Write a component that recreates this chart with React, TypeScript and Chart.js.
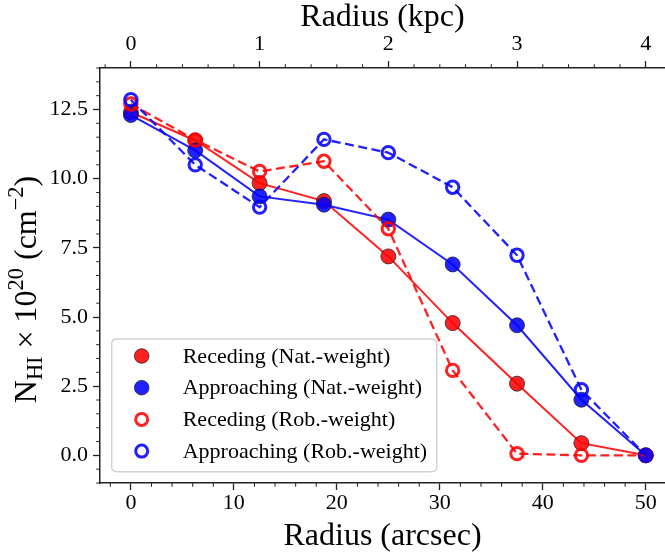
import React, { useEffect, useRef } from 'react';
import { Chart, registerables } from 'chart.js';

Chart.register(...registerables);

// ---------- data ----------
const radiusArcsec = [0, 6.25, 12.5, 18.75, 25, 31.25, 37.5, 43.75, 50];
const recedingNat = [12.4, 11.38, 9.84, 9.19, 7.19, 4.78, 2.59, 0.44, 0];
const approachingNat = [12.3, 11.02, 9.36, 9.06, 8.52, 6.9, 4.7, 2.01, 0];
const recedingRob = [12.7, 11.4, 10.26, 10.63, 8.19, 3.07, 0.06, 0.0, 0];
const approachingRob = [12.85, 10.5, 8.97, 11.42, 10.94, 9.69, 7.23, 2.37, 0];

const seriesLabels = [
  'Receding (Nat.-weight)',
  'Approaching (Nat.-weight)',
  'Receding (Rob.-weight)',
  'Approaching (Rob.-weight)',
];

const xTicksArcsec = [0, 10, 20, 30, 40, 50];
const xTicksKpc = [0, 1, 2, 3, 4];
const yTicks = [0, 2.5, 5, 7.5, 10, 12.5];
const ARCSEC_PER_KPC = 12.5;

const X_MIN = -3;
const X_MAX = 51.87;
const Y_MIN = -1;
const Y_MAX = 14;

// ---------- style ----------
const FONT = "'Liberation Serif', 'Times New Roman', 'DejaVu Serif', serif";
const RED = 'rgba(255,0,0,0.87)';
const BLUE = 'rgba(0,0,255,0.87)';
const EDGE = 'rgba(30,30,30,0.75)';
const AXIS = '#222';
const W = 665;
const H = 556;

const legendItems = [
  { label: seriesLabels[0], color: RED, filled: true },
  { label: seriesLabels[1], color: BLUE, filled: true },
  { label: seriesLabels[2], color: RED, filled: false },
  { label: seriesLabels[3], color: BLUE, filled: false },
];

const toPts = (ys: number[]) => radiusArcsec.map((x, i) => ({ x, y: ys[i] }));

function roundRect(ctx: CanvasRenderingContext2D, x: number, y: number, w: number, h: number, r: number) {
  ctx.beginPath();
  ctx.moveTo(x + r, y);
  ctx.lineTo(x + w - r, y);
  ctx.quadraticCurveTo(x + w, y, x + w, y + r);
  ctx.lineTo(x + w, y + h - r);
  ctx.quadraticCurveTo(x + w, y + h, x + w - r, y + h);
  ctx.lineTo(x + r, y + h);
  ctx.quadraticCurveTo(x, y + h, x, y + h - r);
  ctx.lineTo(x, y + r);
  ctx.quadraticCurveTo(x, y, x + r, y);
  ctx.closePath();
}

const decorPlugin = {
  id: 'decor',
  afterDraw(chart: any) {
    const ctx: CanvasRenderingContext2D = chart.ctx;
    const xs = chart.scales.x;
    const xt = chart.scales.x2;
    const ys = chart.scales.y;
    const area = chart.chartArea;
    const MINOR = 3.8;
    ctx.save();
    // minor ticks
    ctx.strokeStyle = AXIS;
    ctx.lineWidth = 1;
    ctx.beginPath();
    for (let i = -2; i <= 27; i++) {
      if (i % 5 === 0) continue;
      const v = i * 2;
      if (v < xs.min || v > xs.max) continue;
      const px = xs.getPixelForValue(v);
      ctx.moveTo(px, area.bottom);
      ctx.lineTo(px, area.bottom + MINOR);
    }
    for (let i = -2; i <= 22; i++) {
      if (i % 5 === 0) continue;
      const v = i * 0.2;
      if (v < xt.min || v > xt.max) continue;
      const px = xt.getPixelForValue(v);
      ctx.moveTo(px, area.top);
      ctx.lineTo(px, area.top - MINOR);
    }
    for (let i = -2; i <= 28; i++) {
      if (i % 5 === 0) continue;
      const v = i * 0.5;
      if (v < ys.min || v > ys.max) continue;
      const py = ys.getPixelForValue(v);
      ctx.moveTo(area.left, py);
      ctx.lineTo(area.left - MINOR, py);
    }
    ctx.stroke();

    // y-axis title with sub/superscripts
    const fs = 32;
    const parts = [
      { t: 'N', s: 1, dy: 0 },
      { t: 'HI', s: 0.7, dy: 0.2 },
      { t: ' \u00d7 10', s: 1, dy: 0 },
      { t: '20', s: 0.7, dy: -0.42 },
      { t: ' (cm', s: 1, dy: 0 },
      { t: '\u22122', s: 0.7, dy: -0.42 },
      { t: ')', s: 1, dy: 0 },
    ];
    let total = 0;
    const widths: number[] = [];
    for (const p of parts) {
      ctx.font = `${fs * p.s}px ${FONT}`;
      const w = ctx.measureText(p.t).width;
      widths.push(w);
      total += w;
    }
    ctx.translate(36, (area.top + area.bottom) / 2 + 14);
    ctx.rotate(-Math.PI / 2);
    ctx.fillStyle = '#000';
    ctx.textBaseline = 'alphabetic';
    ctx.textAlign = 'left';
    let cx = -total / 2;
    parts.forEach((p, i) => {
      ctx.font = `${fs * p.s}px ${FONT}`;
      ctx.fillText(p.t, cx, p.dy * fs);
      cx += widths[i];
    });
    ctx.setTransform(1, 0, 0, 1, 0, 0);

    // legend
    const bx = 111.7, by = 339, bw = 325, bh = 132.7;
    roundRect(ctx, bx, by, bw, bh, 5);
    ctx.fillStyle = 'rgba(255,255,255,0.8)';
    ctx.fill();
    ctx.strokeStyle = '#d2d2d2';
    ctx.lineWidth = 1.4;
    ctx.stroke();
    ctx.font = `22px ${FONT}`;
    ctx.textBaseline = 'middle';
    legendItems.forEach((it, i) => {
      const ry = 356 + i * 31.7;
      ctx.beginPath();
      if (it.filled) {
        ctx.arc(141.7, ry, 7.3, 0, Math.PI * 2);
        ctx.fillStyle = it.color;
        ctx.fill();
        ctx.strokeStyle = EDGE;
        ctx.lineWidth = 1;
        ctx.stroke();
      } else {
        ctx.arc(141.7, ry, 6, 0, Math.PI * 2);
        ctx.strokeStyle = it.color;
        ctx.lineWidth = 3;
        ctx.stroke();
      }
      ctx.fillStyle = '#000';
      ctx.fillText(it.label, 182.7, ry + 1);
    });
    ctx.restore();
  },
};

export default function App() {
  const ref = useRef<HTMLCanvasElement | null>(null);

  useEffect(() => {
    if (!ref.current) return;
    const tickFont = { family: FONT, size: 22 };
    const titleFont = { family: FONT, size: 32, lineHeight: 1 };
    const gridCommon = {
      display: true,
      drawOnChartArea: false,
      drawTicks: true,
      tickLength: 7,
      tickWidth: 1.3,
      tickColor: AXIS,
    };
    const borderCommon = { display: true, color: AXIS, width: 1.5 };
    const noPadH = (s: any) => {
      s.paddingLeft = 0;
      s.paddingRight = 0;
    };

    const chart = new Chart(ref.current, {
      type: 'line',
      data: {
        datasets: [
          {
            label: seriesLabels[0],
            data: toPts(recedingNat),
            borderColor: RED,
            borderWidth: 2,
            pointRadius: 7.5,
            pointBackgroundColor: RED,
            pointBorderColor: EDGE,
            pointBorderWidth: 1,
            order: 3,
          },
          {
            label: seriesLabels[1],
            data: toPts(approachingNat),
            borderColor: BLUE,
            borderWidth: 2,
            pointRadius: 7.5,
            pointBackgroundColor: BLUE,
            pointBorderColor: EDGE,
            pointBorderWidth: 1,
            order: 2,
          },
          {
            label: seriesLabels[2],
            data: toPts(recedingRob),
            borderColor: RED,
            borderWidth: 2.3,
            borderDash: [9, 4.5],
            pointRadius: 6.2,
            pointBackgroundColor: 'rgba(0,0,0,0)',
            pointBorderColor: RED,
            pointBorderWidth: 3,
            order: 1,
          },
          {
            label: seriesLabels[3],
            data: toPts(approachingRob),
            borderColor: BLUE,
            borderWidth: 2.3,
            borderDash: [9, 4.5],
            pointRadius: 6.2,
            pointBackgroundColor: 'rgba(0,0,0,0)',
            pointBorderColor: BLUE,
            pointBorderWidth: 3,
            order: 0,
          },
        ],
      },
      options: {
        responsive: false,
        animation: false,
        layout: { padding: 0, autoPadding: false },
        plugins: {
          legend: { display: false },
          tooltip: { enabled: false },
        },
        elements: { line: { tension: 0 } },
        scales: {
          x: {
            type: 'linear',
            position: 'bottom',
            min: X_MIN,
            max: X_MAX,
            grid: gridCommon,
            border: borderCommon,
            afterBuildTicks: (s: any) => {
              s.ticks = xTicksArcsec.map((v) => ({ value: v }));
            },
            afterFit: (s: any) => {
              s.height = 73;
              noPadH(s);
            },
            ticks: {
              font: tickFont,
              color: '#000',
              padding: 0,
              maxRotation: 0,
              autoSkip: false,
              callback: (v: any) => String(v),
            },
            title: {
              display: true,
              text: 'Radius (arcsec)',
              font: titleFont,
              color: '#000',
              padding: { top: 0, bottom: 3 },
            },
          },
          x2: {
            type: 'linear',
            position: 'top',
            min: X_MIN / ARCSEC_PER_KPC,
            max: X_MAX / ARCSEC_PER_KPC,
            grid: gridCommon,
            border: borderCommon,
            afterBuildTicks: (s: any) => {
              s.ticks = xTicksKpc.map((v) => ({ value: v }));
            },
            afterFit: (s: any) => {
              s.height = 68;
              noPadH(s);
            },
            ticks: {
              font: tickFont,
              color: '#000',
              padding: 4,
              maxRotation: 0,
              autoSkip: false,
              callback: (v: any) => String(v),
            },
            title: {
              display: true,
              text: 'Radius (kpc)',
              font: titleFont,
              color: '#000',
              padding: { top: 2, bottom: 0 },
            },
          },
          y: {
            type: 'linear',
            position: 'left',
            min: Y_MIN,
            max: Y_MAX,
            grid: gridCommon,
            border: borderCommon,
            afterBuildTicks: (s: any) => {
              s.ticks = yTicks.map((v) => ({ value: v }));
            },
            afterFit: (s: any) => {
              s.width = 100;
              s.paddingTop = 0;
              s.paddingBottom = 0;
            },
            ticks: {
              font: tickFont,
              color: '#000',
              padding: 5,
              autoSkip: false,
              callback: (v: any) => Number(v).toFixed(1),
            },
            title: { display: false },
          },
        },
      },
      plugins: [decorPlugin],
    } as any);

    return () => chart.destroy();
  }, []);

  return (
    <canvas
      ref={ref}
      width={W}
      height={H}
      style={{ position: 'absolute', left: 0, top: 0, width: W, height: H }}
    />
  );
}
